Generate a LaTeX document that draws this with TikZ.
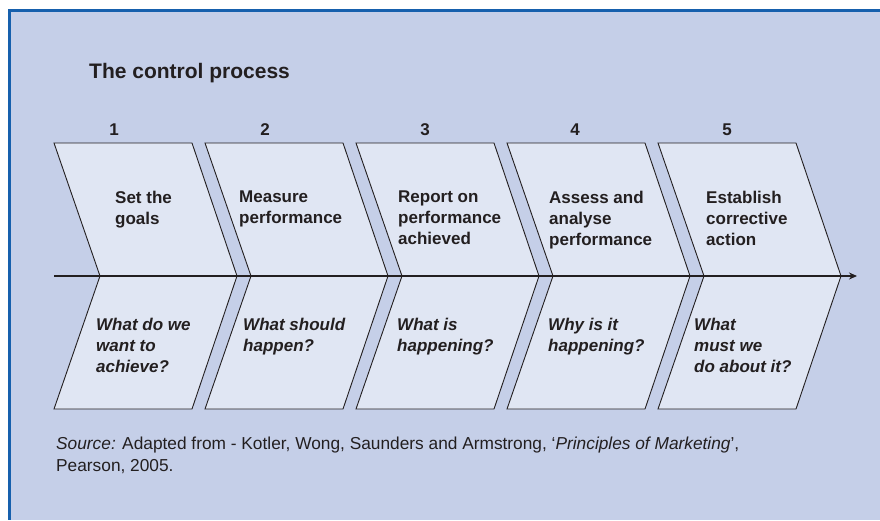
\documentclass[tikz,border=0pt]{standalone}
\usepackage{fontspec}
\setmainfont{Liberation Sans}
\usepackage{tikz}
\usetikzlibrary{arrows, arrows.meta, positioning}
\definecolor{panelblue}{RGB}{197,207,232}
\definecolor{cellblue}{RGB}{224,230,243}
\definecolor{frameblue}{RGB}{22,96,173}
\definecolor{inkgray}{RGB}{35,31,32}

\begin{document}
\begin{tikzpicture}[x=1pt, y=-1pt]
\tikzstyle{chevron} = [draw=inkgray, fill=cellblue, line width=0.9pt, line join=miter]
\tikzstyle{stagetext} = [anchor=north west, inner sep=0pt, align=left, text=inkgray, font=\fontsize{17}{21}\selectfont\bfseries]
\tikzstyle{question} = [stagetext, font=\fontsize{17}{21}\selectfont\bfseries\itshape]
\tikzstyle{stepnum} = [anchor=base, inner sep=0pt, text=inkgray, font=\fontsize{17}{21}\selectfont\bfseries]
\tikzstyle{arrow} = [line width=1.3pt, ->, >={Stealth[length=8pt, width=7pt]}, draw=inkgray]

% Panel
\useasboundingbox (0,0) rectangle (880,520);
\fill[white] (0,0) rectangle (880,520);
\fill[frameblue] (8,9) rectangle (880,520);
\fill[panelblue] (11,12) rectangle (880,520);

% Title
\node (title) [anchor=base west, inner sep=0pt, text=inkgray, font=\fontsize{21}{25}\selectfont\bfseries] at (89,78) {The control process};

% Chevrons
\foreach \i in {0,...,4} {
  \pgfmathsetmacro{\xa}{54+151*\i}
  \draw[chevron] (\xa,143) -- ++(138,0) -- ++(45,133) -- ++(-137,0) -- cycle;
  \draw[chevron] (\xa+46,276) -- ++(137,0) -- ++(-45,133) -- ++(-138,0) -- cycle;
}

% Time axis
\coordinate (axisstart) at (54,276);
\coordinate (axisend) at (857,276);
\draw [arrow] (axisstart) -- (axisend);

% Step numbers
\node (num1) [stepnum] at (114,135) {1};
\node (num2) [stepnum] at (265,135) {2};
\node (num3) [stepnum] at (425,135) {3};
\node (num4) [stepnum] at (575,135) {4};
\node (num5) [stepnum] at (727,135) {5};

% Steps
\node (goals) [stagetext] at (115,191) {Set the\\goals};
\node (measure) [stagetext] at (239,191) {Measure\\performance};
\node (report) [stagetext] at (398,191) {Report on\\performance\\achieved};
\node (assess) [stagetext] at (549,191) {Assess and\\analyse\\performance};
\node (correct) [stagetext] at (706,191) {Establish\\corrective\\action};

% Questions
\node (qgoals) [question] at (96,318) {What do we\\want to\\achieve?};
\node (qmeasure) [question] at (243,318) {What should\\happen?};
\node (qreport) [question] at (397,318) {What is\\happening?};
\node (qassess) [question] at (548,318) {Why is it\\happening?};
\node (qcorrect) [question] at (694,318) {What\\must we\\do about it?};

% Source
\node (source) [anchor=north west, inner sep=0pt, align=left, text=inkgray, font=\fontsize{17.3}{22}\selectfont] at (56,437) {\textit{Source:} Adapted from - Kotler, Wong, Saunders and Armstrong, ‘\textit{Principles of Marketing}’,\\Pearson, 2005.};
\end{tikzpicture}
\end{document}
